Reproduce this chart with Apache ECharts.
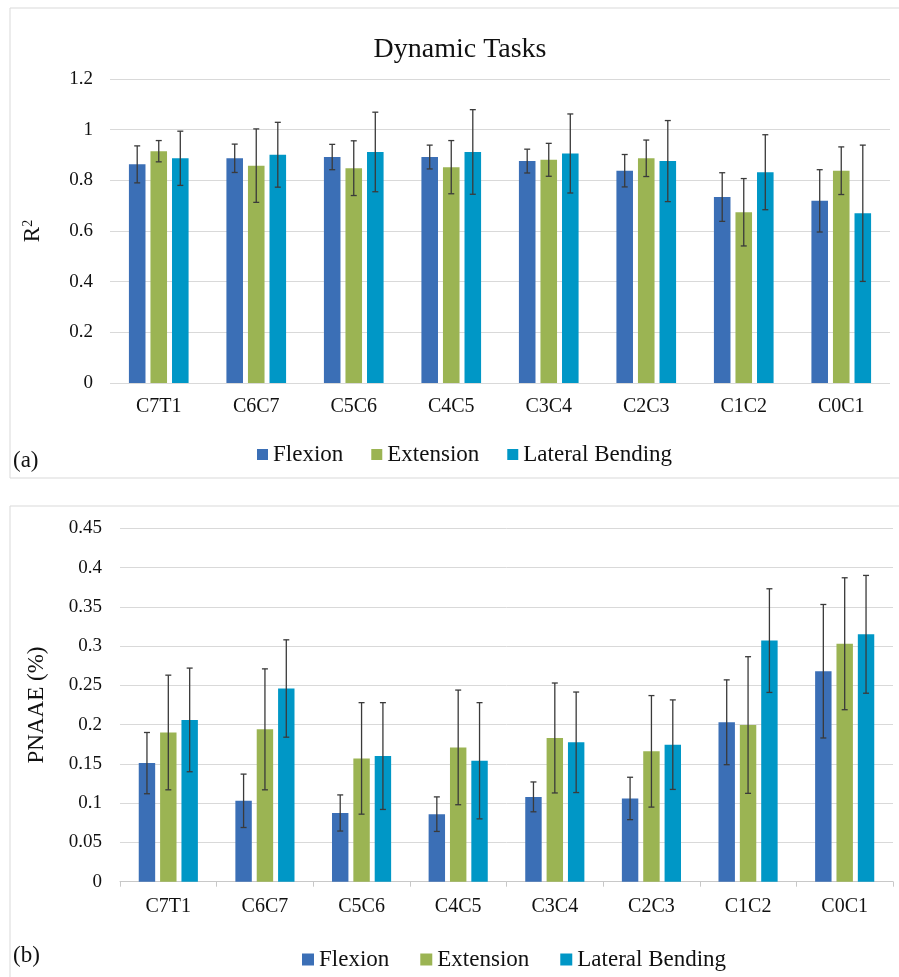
<!DOCTYPE html>
<html>
<head>
<meta charset="utf-8">
<script src="https://cdn.jsdelivr.net/npm/echarts@6/dist/echarts.min.js"></script>
<style>
html,body{margin:0;padding:0;background:#fff;}
#chart{width:899px;height:977px;}
</style>
</head>
<body>
<div id="chart"></div>
<script>
// ---------- data ----------
const categories = ['C7T1','C6C7','C5C6','C4C5','C3C4','C2C3','C1C2','C0C1'];
const seriesNames = ['Flexion','Extension','Lateral Bending'];

// (a) R^2, mean and error (±)
const flexR2    = [0.863, 0.887, 0.892, 0.892, 0.876, 0.838, 0.734, 0.719];
const flexR2Err = [0.073, 0.056, 0.050, 0.047, 0.047, 0.064, 0.096, 0.123];
const extR2     = [0.915, 0.858, 0.848, 0.852, 0.881, 0.887, 0.674, 0.838];
const extR2Err  = [0.042, 0.145, 0.108, 0.105, 0.065, 0.072, 0.133, 0.094];
const latR2     = [0.887, 0.901, 0.912, 0.912, 0.906, 0.876, 0.832, 0.670];
const latR2Err  = [0.107, 0.128, 0.157, 0.167, 0.156, 0.160, 0.148, 0.269];

// (b) PNAAE (%), mean and error (±)
const flexP    = [0.151, 0.103, 0.0875, 0.086, 0.108, 0.106, 0.203, 0.268];
const flexPErr = [0.039, 0.034, 0.023, 0.022, 0.019, 0.027, 0.054, 0.085];
const extP     = [0.190, 0.194, 0.157, 0.171, 0.183, 0.166, 0.1995, 0.303];
const extPErr  = [0.073, 0.077, 0.071, 0.073, 0.070, 0.071, 0.087, 0.084];
const latP     = [0.206, 0.246, 0.160, 0.154, 0.1775, 0.1745, 0.307, 0.315];
const latPErr  = [0.066, 0.062, 0.068, 0.074, 0.064, 0.057, 0.066, 0.075];

const yTicksA = [0, 0.2, 0.4, 0.6, 0.8, 1, 1.2];
const yTicksB = [0, 0.05, 0.1, 0.15, 0.2, 0.25, 0.3, 0.35, 0.4, 0.45];

// ---------- style ----------
const FONT = '"Liberation Serif", "DejaVu Serif", serif';
const colors = ['#3B6FB6', '#9BB453', '#0097C6'];
const BAR_W = 0.17;   // fraction of category band
const BAR_GAP = 0.3;  // fraction of bar width

const chart = echarts.init(document.getElementById('chart'));

function errSeries(name, means, errs, idx, axisIdx) {
  return {
    type: 'custom',
    name: name,
    xAxisIndex: axisIdx,
    yAxisIndex: axisIdx,
    z: 10,
    silent: true,
    data: means.map((m, i) => [i, m, errs[i]]),
    encode: { x: 0, y: 1 },
    renderItem: function (params, api) {
      const band = api.size([1, 0])[0];
      const bw = band * BAR_W;
      const off = (idx - 1) * (bw + bw * BAR_GAP);
      const i = api.value(0), m = api.value(1), e = api.value(2);
      const hi = api.coord([i, m + e]);
      const lo = api.coord([i, m - e]);
      const x = hi[0] + off;
      const cap = 3;
      const st = { stroke: '#3a3a3a', lineWidth: 1.3 };
      return {
        type: 'group',
        children: [
          { type: 'line', shape: { x1: x, y1: hi[1], x2: x, y2: lo[1] }, style: st },
          { type: 'line', shape: { x1: x - cap, y1: hi[1], x2: x + cap, y2: hi[1] }, style: st },
          { type: 'line', shape: { x1: x - cap, y1: lo[1], x2: x + cap, y2: lo[1] }, style: st }
        ]
      };
    }
  };
}

function barSeries(name, data, idx, axisIdx) {
  return {
    type: 'bar',
    name: name,
    xAxisIndex: axisIdx,
    yAxisIndex: axisIdx,
    data: data,
    barWidth: (BAR_W * 100) + '%',
    barGap: (BAR_GAP * 100) + '%',
    itemStyle: { color: colors[idx] },
    emphasis: { disabled: true }
  };
}

const gridLine = { show: true, lineStyle: { color: '#d9d9d9', width: 1 } };

const option = {
  animation: false,
  backgroundColor: '#ffffff',
  textStyle: { fontFamily: FONT },
  grid: [
    { left: 110, right: 9, top: 79, height: 304, containLabel: false },
    { left: 120, right: 6, top: 528.3, height: 353.4, containLabel: false }
  ],
  legend: [
    {
      data: seriesNames, left: 252, top: 438,
      icon: 'rect', itemWidth: 11, itemHeight: 11, itemGap: 28,
      textStyle: { fontFamily: FONT, fontSize: 23, color: '#111' },
      selectedMode: false
    },
    {
      data: seriesNames, left: 297, top: 943,
      icon: 'rect', itemWidth: 12, itemHeight: 12, itemGap: 31,
      textStyle: { fontFamily: FONT, fontSize: 23, color: '#111' },
      selectedMode: false
    }
  ],
  xAxis: [
    {
      type: 'category', gridIndex: 0, data: categories,
      axisLine: { show: false }, axisTick: { show: false },
      axisLabel: { fontFamily: FONT, fontSize: 20, color: '#111', margin: 14 }
    },
    {
      type: 'category', gridIndex: 1, data: categories,
      axisLine: { show: true, lineStyle: { color: '#c8c8c8', width: 1 } },
      axisTick: { show: true, length: 5, lineStyle: { color: '#c8c8c8' } },
      axisLabel: { fontFamily: FONT, fontSize: 20, color: '#111', margin: 15 }
    }
  ],
  yAxis: [
    {
      type: 'value', gridIndex: 0, min: yTicksA[0], max: yTicksA[yTicksA.length - 1], interval: 0.2,
      axisLine: { show: false }, axisTick: { show: false },
      splitLine: gridLine,
      axisLabel: { fontFamily: FONT, fontSize: 19, color: '#111', margin: 17,
        formatter: v => String(+v.toFixed(2)) },
      name: 'R{sup|2}', nameLocation: 'middle', nameRotate: 90, nameGap: 65,
      nameTextStyle: { fontFamily: FONT, fontSize: 23, color: '#111',
        rich: { sup: { fontFamily: FONT, fontSize: 14, color: '#111', verticalAlign: 'top', padding: [0, 0, 10, 0] } } }
    },
    {
      type: 'value', gridIndex: 1, min: yTicksB[0], max: yTicksB[yTicksB.length - 1], interval: 0.05,
      axisLine: { show: false }, axisTick: { show: false },
      splitLine: gridLine,
      axisLabel: { fontFamily: FONT, fontSize: 19, color: '#111', margin: 18,
        formatter: v => String(+v.toFixed(2)) },
      name: 'PNAAE (%)', nameLocation: 'middle', nameRotate: 90, nameGap: 72,
      nameTextStyle: { fontFamily: FONT, fontSize: 23, color: '#111' }
    }
  ],
  graphic: [
    { type: 'rect', shape: { x: 10, y: 8, width: 900, height: 470 },
      style: { fill: 'none', stroke: '#d9d9d9', lineWidth: 1 }, silent: true, z: -10 },
    { type: 'rect', shape: { x: 10, y: 506, width: 900, height: 480 },
      style: { fill: 'none', stroke: '#d9d9d9', lineWidth: 1 }, silent: true, z: -10 },
    { type: 'text', x: 460, y: 50,
      style: { text: 'Dynamic Tasks', font: '28px ' + FONT, fill: '#111', align: 'center', verticalAlign: 'middle' } },
    { type: 'text', x: 13, y: 461,
      style: { text: '(a)', font: '23px ' + FONT, fill: '#111', align: 'left', verticalAlign: 'middle' } },
    { type: 'text', x: 13, y: 956,
      style: { text: '(b)', font: '23px ' + FONT, fill: '#111', align: 'left', verticalAlign: 'middle' } }
  ],
  series: [
    barSeries('Flexion', flexR2, 0, 0),
    barSeries('Extension', extR2, 1, 0),
    barSeries('Lateral Bending', latR2, 2, 0),
    errSeries('errA0', flexR2, flexR2Err, 0, 0),
    errSeries('errA1', extR2, extR2Err, 1, 0),
    errSeries('errA2', latR2, latR2Err, 2, 0),
    barSeries('Flexion', flexP, 0, 1),
    barSeries('Extension', extP, 1, 1),
    barSeries('Lateral Bending', latP, 2, 1),
    errSeries('errB0', flexP, flexPErr, 0, 1),
    errSeries('errB1', extP, extPErr, 1, 1),
    errSeries('errB2', latP, latPErr, 2, 1)
  ]
};

chart.setOption(option);
</script>
</body>
</html>
